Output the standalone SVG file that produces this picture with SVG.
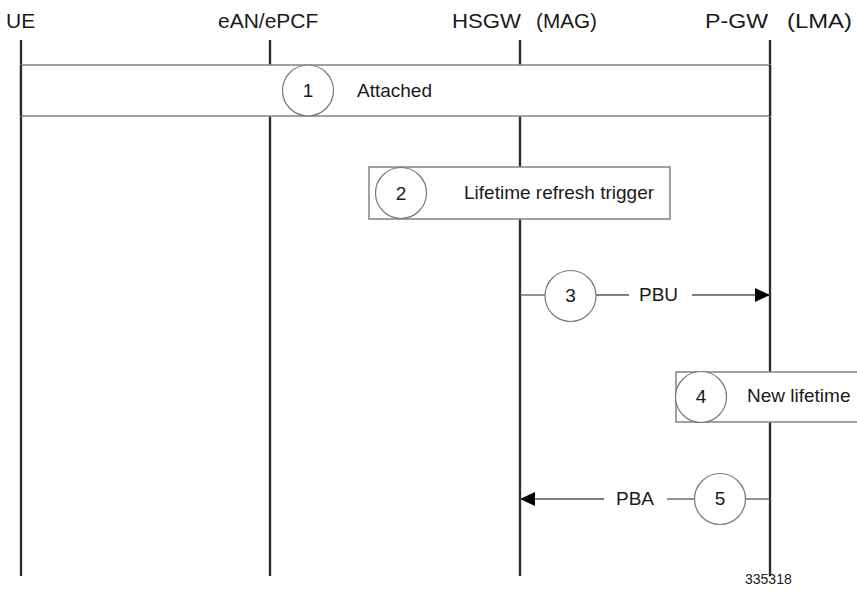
<svg xmlns="http://www.w3.org/2000/svg" width="857" height="597" viewBox="0 0 857 597">
<style>
text{font-family:"Liberation Sans",Arial,sans-serif;fill:#1a1a1a}
.hdr{font-size:21px}
.lbl{font-size:19px}
.num{font-size:19px;text-anchor:middle}
.life{stroke:#2a2a2a;stroke-width:2.3;fill:none}
.box{fill:#fff;stroke:#8a8a8a;stroke-width:1.6}
.circ{fill:#fff;stroke:#777;stroke-width:1.2}
.msg{stroke:#555;stroke-width:1.3;fill:none}
</style>
<defs>
<marker id="ah" viewBox="0 0 15 14" refX="15" refY="7" markerWidth="15" markerHeight="14" markerUnits="userSpaceOnUse" orient="auto">
<path d="M0,0 L15,7 L0,14 Z" fill="#000"/>
</marker>
</defs>
<g id="lifelines">
<g id="UE"><text class="hdr" x="6" y="28">UE</text><line class="life" x1="21" y1="40" x2="21" y2="576"/></g>
<g id="eAN"><text class="hdr" x="218" y="28">eAN/ePCF</text><line class="life" x1="270" y1="40" x2="270" y2="576"/></g>
<g id="HSGW"><text class="hdr" y="28"><tspan x="452" textLength="69" lengthAdjust="spacingAndGlyphs">HSGW</tspan> <tspan x="536" textLength="61" lengthAdjust="spacingAndGlyphs">(MAG)</tspan></text><line class="life" x1="520" y1="40" x2="520" y2="576"/></g>
<g id="PGW"><text class="hdr" y="28"><tspan x="705" textLength="63" lengthAdjust="spacingAndGlyphs">P-GW</tspan> <tspan x="787" textLength="65" lengthAdjust="spacingAndGlyphs">(LMA)</tspan></text><line class="life" x1="770" y1="40" x2="770" y2="576"/></g>
</g>
<g id="step1">
<rect class="box" x="21" y="65" width="749" height="51"/>
<line class="life" x1="21" y1="65" x2="21" y2="116"/>
<line class="life" x1="770" y1="65" x2="770" y2="116"/>
<circle class="circ" cx="308" cy="90.5" r="25.5"/>
<text class="num" x="308" y="97">1</text>
<text class="lbl" x="357" y="97">Attached</text>
</g>
<g id="step2">
<rect class="box" x="369" y="167" width="301" height="52"/>
<circle class="circ" cx="401" cy="193" r="25.5"/>
<text class="num" x="401" y="200">2</text>
<text class="lbl" x="464" y="199">Lifetime refresh trigger</text>
</g>
<g id="connectors">
<line class="msg" x1="520" y1="295" x2="545" y2="295"/>
<line class="msg" x1="596" y1="295" x2="629" y2="295"/>
<line class="msg" x1="692" y1="295" x2="770" y2="295" marker-end="url(#ah)"/>
<line class="msg" x1="604" y1="499" x2="520" y2="499" marker-end="url(#ah)"/>
<line class="msg" x1="667" y1="499" x2="694" y2="499"/>
<line class="msg" x1="746" y1="499" x2="770" y2="499"/>
</g>
<g id="step3">
<circle class="circ" cx="570.5" cy="296" r="25.5"/>
<text class="num" x="570.5" y="302">3</text>
<text class="lbl" x="639" y="301">PBU</text>
</g>
<g id="step4">
<rect class="box" x="676" y="372" width="190" height="50"/>
<circle class="circ" cx="701" cy="397" r="25.5"/>
<text class="num" x="701" y="403">4</text>
<text class="lbl" x="747" y="402">New lifetime</text>
</g>
<g id="step5">
<circle class="circ" cx="720" cy="499" r="25.5"/>
<text class="num" x="720" y="505">5</text>
<text class="lbl" x="616" y="505">PBA</text>
</g>
<text x="745" y="584" style="font-size:14px">335318</text>
</svg>
